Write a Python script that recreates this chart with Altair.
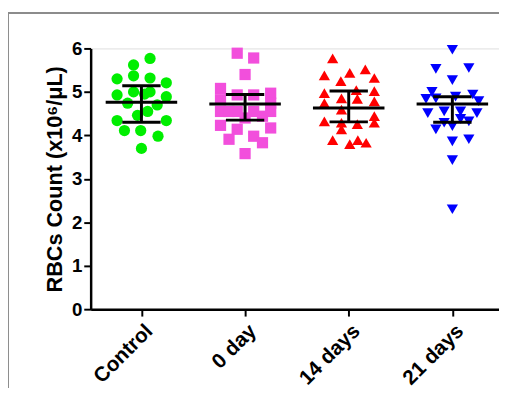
import altair as alt
import pandas as pd

groups = ["Control", "0 day", "14 days", "21 days"]
colors = ["#00ee00", "#f24fdc", "#ff0000", "#0000ff"]
shapes = ["circle", "square", "triangle-up", "triangle-down"]

control_vals = [5.77, 5.62, 5.30, 5.37, 5.32, 5.21, 4.93, 5.00, 5.00, 4.89, 4.74, 4.70,
                4.46, 4.34, 4.34, 4.11, 4.11, 3.98, 3.70, 4.55, 4.95]
control_jit = [0.083, -0.076, -0.235, -0.076, 0.083, 0.24, -0.235, -0.076, 0.083, 0.24,
               -0.133, 0.152, -0.038, -0.235, 0.24, -0.164, -0.007, 0.16, 0.0, 0.06, 0.03]

day0_vals = [5.89, 5.78, 5.40, 5.08, 4.82, 4.55, 4.23, 3.91, 4.93, 4.93, 4.97, 4.74,
             4.55, 4.55, 4.40, 4.44, 4.14, 3.98, 4.17, 3.83, 3.58, 4.55, 4.55]
day0_jit = [-0.076, 0.083, 0.0, -0.237, -0.237, -0.237, -0.237, -0.155, -0.076, 0.083,
            0.247, 0.247, 0.247, -0.155, 0.0, 0.168, -0.076, 0.083, 0.247, 0.168, 0.0,
            0.083, -0.076]

day14_vals = [5.77, 5.38, 5.44, 5.52, 5.32, 5.25, 4.97, 5.04, 5.02, 4.74, 4.85, 4.78,
              4.84, 4.32, 4.29, 4.14, 4.26, 4.44, 4.29, 3.89, 3.80, 3.89, 3.83, 4.59]
day14_jit = [-0.155, -0.235, 0.01, 0.16, 0.247, -0.076, -0.235, 0.073, 0.247, -0.235,
             -0.07, 0.247, 0.083, -0.235, -0.07, -0.07, 0.083, 0.247, 0.247, -0.155,
             0.01, 0.088, 0.168, -0.07]

day21_vals = [5.97, 5.53, 5.55, 5.27, 5.00, 4.84, 4.94, 4.79, 4.89, 4.51, 4.55, 4.55,
              4.51, 4.14, 4.29, 4.21, 4.32, 3.91, 3.86, 3.43, 2.30, 4.38, 4.85]
day21_jit = [0.0, -0.159, 0.159, 0.0, -0.197, -0.254, 0.197, 0.254, 0.031, -0.237,
             -0.079, 0.079, 0.237, -0.159, -0.079, 0.0, 0.159, 0.159, 0.0, 0.0, 0.0,
             0.079, -0.159]

means = [4.76, 4.72, 4.63, 4.72]
uppers = [5.14, 4.94, 5.02, 4.89]
lowers = [4.30, 4.35, 4.31, 4.30]

rows = []
for gi, (vals, jit) in enumerate([(control_vals, control_jit), (day0_vals, day0_jit),
                                   (day14_vals, day14_jit), (day21_vals, day21_jit)]):
    for v, j in zip(vals, jit):
        rows.append({"group": groups[gi], "idx": gi, "x": gi + j, "value": v})
pts = pd.DataFrame(rows)

summ = pd.DataFrame({"group": groups, "idx": list(range(4)), "mean": means,
                     "upper": uppers, "lower": lowers})

W, H = 415, 265
xscale = alt.Scale(domain=[-0.49, 3.45], nice=False, zero=False)
yscale = alt.Scale(domain=[0, 6], nice=False)
label_expr = "[" + ",".join("'%s'" % g for g in groups) + "][datum.value]"

xaxis = alt.Axis(values=[0, 1, 2, 3], labelExpr=label_expr, title=None, grid=False,
                 labelAngle=-45, labelFontSize=21, labelFontWeight="bold",
                 labelColor="black", tickSize=7, tickWidth=2, tickColor="black",
                 domainColor="black", domainWidth=2.5, labelPadding=4)
yaxis = alt.Axis(values=[0, 1, 2, 3, 4, 5, 6], title="RBCs Count (x10\u2076/\u03bcL)",
                 grid=False, labelFontSize=19, labelFontWeight="bold", labelColor="black",
                 titleFontSize=22, titleFontWeight="bold", titleColor="black",
                 tickSize=7, tickWidth=2, tickColor="black", domainColor="black",
                 domainWidth=2.5, labelPadding=2, titlePadding=5)

points = alt.Chart(pts).mark_point(filled=True, opacity=1, size=130).encode(
    x=alt.X("x:Q", scale=xscale, axis=xaxis),
    y=alt.Y("value:Q", scale=yscale, axis=yaxis),
    color=alt.Color("group:N", scale=alt.Scale(domain=groups, range=colors), legend=None),
    shape=alt.Shape("group:N", scale=alt.Scale(domain=groups, range=shapes), legend=None),
)

base = alt.Chart(summ)
mean_rule = base.transform_calculate(
    x1="datum.idx - 0.345", x2="datum.idx + 0.345"
).mark_rule(color="black", strokeWidth=3).encode(
    x=alt.X("x1:Q", scale=xscale), x2="x2:Q", y="mean:Q")
vbar = base.mark_rule(color="black", strokeWidth=3).encode(
    x=alt.X("idx:Q", scale=xscale), y="lower:Q", y2="upper:Q")
cap_hi = base.transform_calculate(
    x1="datum.idx - 0.185", x2="datum.idx + 0.185"
).mark_rule(color="black", strokeWidth=3).encode(
    x=alt.X("x1:Q", scale=xscale), x2="x2:Q", y="upper:Q")
cap_lo = base.transform_calculate(
    x1="datum.idx - 0.185", x2="datum.idx + 0.185"
).mark_rule(color="black", strokeWidth=3).encode(
    x=alt.X("x1:Q", scale=xscale), x2="x2:Q", y="lower:Q")

frame_top = alt.Chart(summ).mark_rule(color="#8c8c8c", strokeWidth=2).encode(
    x=alt.value(-84), x2=alt.value(W + 20), y=alt.value(-36))
frame_left = alt.Chart(summ).mark_rule(color="#8c8c8c", strokeWidth=1.2).encode(
    x=alt.value(-84), y=alt.value(-36), y2=alt.value(H + 200))

chart = alt.layer(points, mean_rule, vbar, cap_hi, cap_lo, frame_top, frame_left).properties(
    width=W, height=H,
    autosize=alt.AutoSizeParams(type="none"),
    padding={"left": 84, "top": 38, "right": 0, "bottom": 77},
).configure_view(stroke=None).configure(font="Liberation Sans")

chart.save("out.html", embed_options={"renderer": "svg", "actions": False})
